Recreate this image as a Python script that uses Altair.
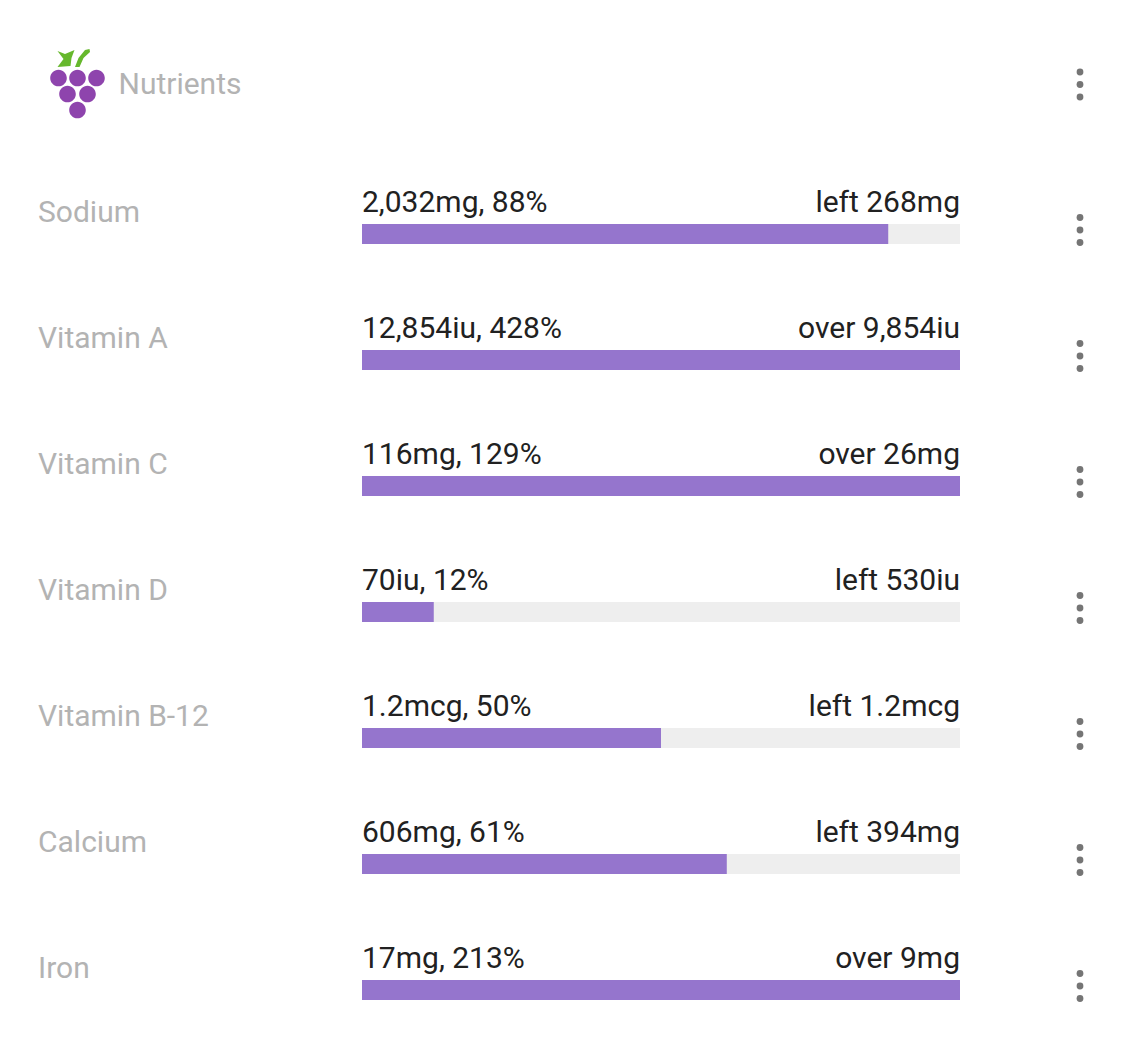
import altair as alt
import pandas as pd

names = ["Sodium", "Vitamin A", "Vitamin C", "Vitamin D", "Vitamin B-12", "Calcium", "Iron"]
percent = [88, 100, 100, 12, 50, 61, 100]
left_labels = ["2,032mg, 88%", "12,854iu, 428%", "116mg, 129%", "70iu, 12%", "1.2mcg, 50%", "606mg, 61%", "17mg, 213%"]
right_labels = ["left 268mg", "over 9,854iu", "over 26mg", "left 530iu", "left 1.2mcg", "left 394mg", "over 9mg"]
title_text = ["Nutrients"]

df = pd.DataFrame({"name": names, "pct": percent, "left": left_labels, "right": right_labels,
                   "start": [0] * 7, "full": [100] * 7})

FONT = "Roboto"
X = alt.Scale(domain=[0, 100], range=[354, 952])
Y = alt.Y("name:O", sort=names, axis=None, scale=alt.Scale(type="point", padding=0, range=[226, 982]))
base = alt.Chart(df)

track = base.mark_bar(size=20, color="#eeeeee", cornerRadius=0).encode(
    x=alt.X("start:Q", scale=X, axis=None), x2="full:Q", y=Y)
bars = base.mark_bar(size=20, color="#9575cd", cornerRadius=0).encode(
    x=alt.X("start:Q", scale=X, axis=None), x2="pct:Q", y=Y)
row_names = base.mark_text(font=FONT, fontSize=30, color="#b3b3b3", align="left", baseline="middle", dy=-21).encode(
    x=alt.value(30), y=Y, text="name:N")
left = base.mark_text(font=FONT, fontSize=30, color="#212121", align="left", baseline="middle", dy=-31).encode(
    x=alt.X("start:Q", scale=X, axis=None), y=Y, text="left:N")
right = base.mark_text(font=FONT, fontSize=30, color="#212121", align="right", baseline="middle", dy=-31).encode(
    x=alt.X("full:Q", scale=X, axis=None), y=Y, text="right:N")

row_dots = [base.mark_circle(size=46, color="#757575", opacity=1, yOffset=o).encode(x=alt.value(1072), y=Y)
            for o in (-16.5, -4, 8.5)]

head = alt.Chart(pd.DataFrame({"t": title_text}))
title = head.mark_text(font=FONT, fontSize=30, color="#b3b3b3", align="left", baseline="middle").encode(
    x=alt.value(110.5), y=alt.value(77), text="t:N")
head_dots = [head.mark_circle(size=46, color="#757575", opacity=1).encode(x=alt.value(1072), y=alt.value(v))
             for v in (64, 76.5, 89)]


def circle(cx, cy, r=8.3):
    return f"M{cx - r},{cy}A{r},{r},0,1,1,{cx + r},{cy}A{r},{r},0,1,1,{cx - r},{cy}Z"


grape_path = " ".join(circle(*c) for c in [(-19, -12), (0, -12), (19, -12), (-10, 4), (10, 4), (0, 20)])
leaf_path = ("M-20,-39L-12.5,-36L-3,-40L-6,-32L-7,-24L-20,-23L-14,-31Z "
             "M-2.5,-23L1,-32L7.5,-40L12,-41L12.5,-38L6,-32L2,-23Z")
grapes = head.mark_point(shape=grape_path, size=4, filled=True, color="#8e44ad", opacity=1, strokeWidth=0).encode(
    x=alt.value(69.5), y=alt.value(82))
leaves = head.mark_point(shape=leaf_path, size=4, filled=True, color="#66b82c", opacity=1, strokeWidth=0).encode(
    x=alt.value(69.5), y=alt.value(82))

chart = alt.layer(track, bars, row_names, left, right, *row_dots, title, *head_dots, grapes, leaves).properties(
    width=1130, height=1020, padding=0, autosize="none", background="white"
).configure_view(stroke=None)

chart.save("out.html", embed_options={"renderer": "svg", "actions": False})
